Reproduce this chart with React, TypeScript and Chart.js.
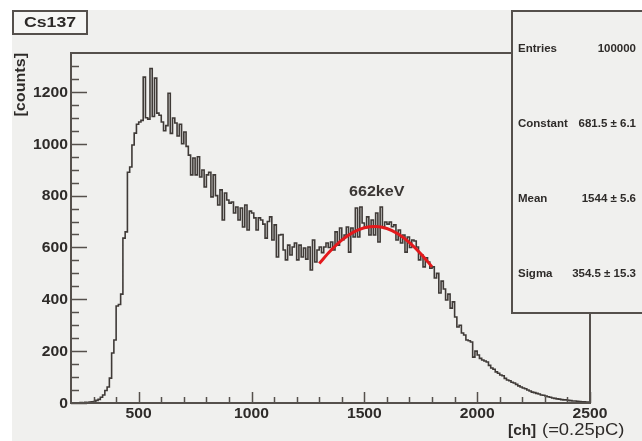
import React, { useEffect, useRef } from 'react';
import { Chart, registerables } from 'chart.js';
Chart.register(...registerables);

// Histogram: bin starts at 200, width 10 channels, up to 2500
const BIN_START = 200;
const BIN_WIDTH = 10;
const X_MIN = 200;
const X_MAX = 2500;
const Y_MIN = 0;
const Y_MAX = 1350;

const COUNTS: number[] = [
  0, 0, 1, 0, 2, 1, 3, 2, 4, 5,
  6, 10, 14, 22, 31, 48, 62, 96, 193, 243,
  374, 380, 420, 636, 660, 890, 910, 995, 1041, 1075,
  1084, 1090, 1257, 1100, 1095, 1290, 1105, 1253, 1118, 1110,
  1084, 1050, 1070, 1195, 1040, 1099, 1080, 1030, 1075, 1000,
  1045, 990, 956, 880, 945, 880, 950, 872, 899, 833,
  880, 890, 795, 880, 800, 764, 822, 706, 810, 783,
  771, 775, 733, 756, 706, 752, 679, 764, 667, 740,
  733, 714, 667, 714, 706, 690, 636, 700, 718, 629,
  687, 563, 648, 650, 590, 552, 609, 571, 602, 617,
  552, 609, 563, 598, 555, 602, 513, 629, 544, 590,
  602, 580, 602, 617, 600, 621, 590, 660, 609, 675,
  630, 648, 679, 582, 675, 640, 752, 640, 756, 694,
  675, 718, 648, 706, 648, 733, 621, 756, 679, 698,
  690, 698, 680, 687, 629, 667, 617, 648, 582, 640,
  600, 629, 625, 602, 552, 571, 525, 560, 544, 520,
  525, 482, 500, 424, 470, 440, 397, 420, 366, 390,
  332, 293, 300, 270, 262, 243, 240, 235, 177, 200,
  185, 172, 166, 162, 158, 145, 135, 130, 120, 115,
  108, 105, 95, 89, 86, 80, 77, 72, 66, 62,
  58, 55, 50, 46, 42, 40, 37, 35, 31, 30,
  27, 24, 22, 19, 18, 16, 15, 13, 12, 12,
  10, 9, 8, 8, 7, 6, 5, 5, 4, 4,
];

// Gaussian fit curve
const FIT_CH = [1300, 1350, 1400, 1450, 1500, 1550, 1600, 1650, 1700, 1750, 1800];
const FIT_VAL = [538, 587, 628, 658, 676, 681, 673, 652, 619, 576, 525];

const X_MAJOR = [500, 1000, 1500, 2000, 2500];
const X_MINOR = [300, 400, 600, 700, 800, 900, 1100, 1200, 1300, 1400, 1600, 1700, 1800, 1900, 2100, 2200, 2300, 2400];
const Y_MAJOR = [0, 200, 400, 600, 800, 1000, 1200];
const Y_MINOR = [50, 100, 150, 250, 300, 350, 450, 500, 550, 650, 700, 750, 850, 900, 950, 1050, 1100, 1150, 1250, 1300];

const TITLE = 'Cs137';
const Y_TITLE = '[counts]';
const X_TITLE_A = '[ch]';
const X_TITLE_B = '(=0.25pC)';
const PEAK_LABEL = '662keV';
const PEAK_POS = { x: 1555, y: 815 };
const STAT_NAMES = ['Entries', 'Constant', 'Mean', 'Sigma'];
const STAT_VALUES = ['100000', '681.5 \u00b1 6.1', '1544 \u00b1 5.6', '354.5 \u00b1 15.3'];

const BG = '#f0f0ee';
const INK = '#2e2b29';
const FRAME = '#55504c';
const SANS = '"Liberation Sans", Arial, sans-serif';

function txt(ctx: CanvasRenderingContext2D, s: string, x: number, y: number, font: string,
  align: CanvasTextAlign, baseline: CanvasTextBaseline, sx: number, rot = 0, color = INK) {
  ctx.save();
  ctx.translate(x, y);
  if (rot) ctx.rotate(rot);
  ctx.scale(sx, 1);
  ctx.font = font;
  ctx.fillStyle = color;
  ctx.textAlign = align;
  ctx.textBaseline = baseline;
  ctx.fillText(s, 0, 0);
  ctx.restore();
}

const rootStyle = {
  id: 'rootStyle',
  beforeDraw(chart: any) {
    const ctx: CanvasRenderingContext2D = chart.ctx;
    ctx.save();
    ctx.fillStyle = '#ffffff';
    ctx.fillRect(0, 0, chart.width, chart.height);
    ctx.fillStyle = BG;
    ctx.fillRect(12, 10, chart.width - 12, chart.height - 10);
    ctx.restore();
  },
  afterDraw(chart: any) {
    const ctx: CanvasRenderingContext2D = chart.ctx;
    const xs = chart.scales.x;
    const ys = chart.scales.y;
    const a = chart.chartArea;
    ctx.save();
    // frame
    ctx.strokeStyle = FRAME;
    ctx.lineWidth = 2;
    ctx.strokeRect(a.left, a.top, a.right - a.left, a.bottom - a.top);
    // ticks
    ctx.lineWidth = 1.5;
    ctx.beginPath();
    for (const v of Y_MAJOR) {
      const y = Math.round(ys.getPixelForValue(v)) + 0.5;
      ctx.moveTo(a.left, y); ctx.lineTo(a.left + 16, y);
    }
    for (const v of Y_MINOR) {
      const y = Math.round(ys.getPixelForValue(v)) + 0.5;
      ctx.moveTo(a.left, y); ctx.lineTo(a.left + 8, y);
    }
    for (const v of X_MAJOR) {
      const x = Math.round(xs.getPixelForValue(v)) + 0.5;
      ctx.moveTo(x, a.bottom); ctx.lineTo(x, a.bottom - 11);
    }
    for (const v of X_MINOR) {
      const x = Math.round(xs.getPixelForValue(v)) + 0.5;
      ctx.moveTo(x, a.bottom); ctx.lineTo(x, a.bottom - 6);
    }
    ctx.stroke();
    // tick labels
    const tickFont = `bold 14px ${SANS}`;
    for (const v of Y_MAJOR) {
      txt(ctx, String(v), a.left - 3, ys.getPixelForValue(v) + 1, tickFont, 'right', 'middle', 1.12);
    }
    for (const v of X_MAJOR) {
      txt(ctx, String(v), xs.getPixelForValue(v), a.bottom + 11, tickFont, 'center', 'middle', 1.12);
    }
    // axis titles
    txt(ctx, Y_TITLE, 21, a.top, `bold 14px ${SANS}`, 'right', 'middle', 1.15, -Math.PI / 2);
    txt(ctx, X_TITLE_A, 508, 431, `bold 14px ${SANS}`, 'left', 'middle', 1.1);
    txt(ctx, X_TITLE_B, 542, 431, `16px ${SANS}`, 'left', 'middle', 1.15);
    // peak label
    txt(ctx, PEAK_LABEL, xs.getPixelForValue(PEAK_POS.x), ys.getPixelForValue(PEAK_POS.y), `bold 14px ${SANS}`, 'center', 'middle', 1.15, 0, '#3a3634');
    // title box
    ctx.fillStyle = '#f6f6f4';
    ctx.fillRect(13, 11, 74, 23);
    ctx.strokeStyle = FRAME;
    ctx.lineWidth = 2;
    ctx.strokeRect(13, 11, 74, 23);
    txt(ctx, TITLE, 50, 23, `bold 15px ${SANS}`, 'center', 'middle', 1.18);
    // stats box
    ctx.fillStyle = BG;
    ctx.fillRect(512, 11, 140, 302);
    ctx.strokeStyle = FRAME;
    ctx.lineWidth = 2;
    ctx.strokeRect(512, 11, 140, 302);
    const rows = [49, 124, 199, 274];
    STAT_NAMES.forEach((n, i) => {
      txt(ctx, n, 518, rows[i], `bold 10px ${SANS}`, 'left', 'middle', 1.15);
      txt(ctx, STAT_VALUES[i], 636, rows[i], `bold 10px ${SANS}`, 'right', 'middle', 1.15);
    });
    ctx.restore();
  },
};

export default function App() {
  const ref = useRef<HTMLCanvasElement>(null);
  useEffect(() => {
    if (!ref.current) return;
    const histData = COUNTS.map((c, i) => ({ x: BIN_START + i * BIN_WIDTH, y: c }));
    histData.push({ x: X_MAX, y: COUNTS[COUNTS.length - 1] });
    const fitData = FIT_CH.map((c, i) => ({ x: c, y: FIT_VAL[i] }));
    const chart = new Chart(ref.current, {
      type: 'line',
      data: {
        datasets: [
          {
            data: fitData,
            borderColor: '#e3191c',
            borderWidth: 3,
            pointRadius: 0,
            cubicInterpolationMode: 'monotone',
            fill: false,
          },
          {
            data: histData,
            borderColor: '#3f3a37',
            borderWidth: 1.6,
            pointRadius: 0,
            stepped: 'before',
            fill: false,
          },
        ],
      },
      options: {
        animation: false,
        responsive: false,
        devicePixelRatio: 1,
        layout: { padding: { left: 71, top: 53, right: 52, bottom: 38 } },
        plugins: { legend: { display: false }, tooltip: { enabled: false } },
        scales: {
          x: {
            type: 'linear', min: X_MIN, max: X_MAX,
            grid: { display: false, drawTicks: false },
            border: { display: false },
            ticks: { display: false },
          },
          y: {
            type: 'linear', min: Y_MIN, max: Y_MAX,
            grid: { display: false, drawTicks: false },
            border: { display: false },
            ticks: { display: false },
          },
        },
      },
      plugins: [rootStyle],
    });
    return () => chart.destroy();
  }, []);
  return (
    <canvas ref={ref} width={642} height={441}
      style={{ position: 'fixed', left: 0, top: 0, width: 642, height: 441 }} />
  );
}
